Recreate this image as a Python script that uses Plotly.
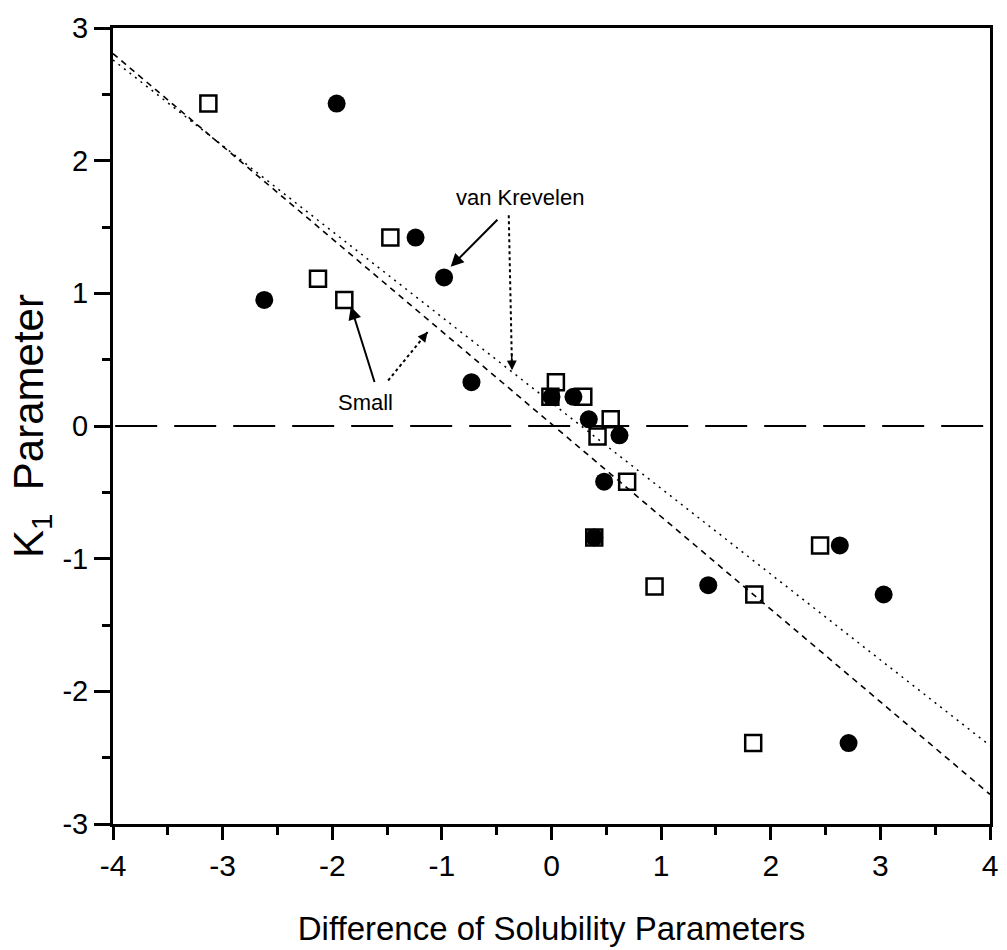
import plotly.graph_objects as go

# Filled circles (van Krevelen)
vk_x = [-1.96, -1.24, -0.98, -2.62, -0.73, 0.00, 0.20, 0.34, 0.62, 0.48, 0.39, 1.43, 2.63, 3.03, 2.71]
vk_y = [2.43, 1.42, 1.12, 0.95, 0.33, 0.22, 0.22, 0.05, -0.07, -0.42, -0.84, -1.20, -0.90, -1.27, -2.39]

# Open squares (Small)
sm_x = [-3.13, -1.47, -2.13, -1.89, 0.04, -0.01, 0.29, 0.54, 0.42, 0.69, 2.45, 0.94, 1.85, 1.84, 0.39]
sm_y = [2.43, 1.42, 1.11, 0.95, 0.33, 0.22, 0.22, 0.05, -0.08, -0.42, -0.90, -1.21, -1.27, -2.39, -0.84]

# Fit lines: [intercept, slope]
small_fit = [0.015, -0.698]
vk_fit = [0.175, -0.646]
fit_x = [-4, 4]
zero_x = [-3.98, 3.98]
zero_y = [0, 0]

x_ticks = [-4, -3, -2, -1, 0, 1, 2, 3, 4]
y_ticks = [-3, -2, -1, 0, 1, 2, 3]

FONT = "Liberation Sans, Arial, Helvetica, sans-serif"

fig = go.Figure()

fig.add_trace(go.Scatter(x=zero_x, y=zero_y, mode="lines",
                         line=dict(color="black", width=2, dash="42px,17px"),
                         showlegend=False, hoverinfo="skip"))
fig.add_trace(go.Scatter(x=fit_x, y=[small_fit[0] + small_fit[1] * v for v in fit_x], mode="lines",
                         line=dict(color="black", width=1.6, dash="6px,5px"),
                         showlegend=False))
fig.add_trace(go.Scatter(x=fit_x, y=[vk_fit[0] + vk_fit[1] * v for v in fit_x], mode="lines",
                         line=dict(color="black", width=1.5, dash="2px,5px"),
                         showlegend=False))
fig.add_trace(go.Scatter(x=sm_x, y=sm_y, mode="markers",
                         marker=dict(symbol="square-open", size=16, color="black", line=dict(width=2.5)),
                         showlegend=False))
fig.add_trace(go.Scatter(x=vk_x, y=vk_y, mode="markers",
                         marker=dict(symbol="circle", size=18, color="black"),
                         showlegend=False))

# Text labels
fig.add_annotation(x=-0.29, y=1.72, text="van Krevelen", showarrow=False,
                   font=dict(family=FONT, size=22, color="black"))
fig.add_annotation(x=-1.70, y=0.175, text="Small", showarrow=False,
                   font=dict(family=FONT, size=22, color="black"))

# Solid arrows
fig.add_annotation(x=-0.92, y=1.20, ax=-0.48, ay=1.566, xref="x", yref="y", axref="x", ayref="y",
                   text="", showarrow=True, arrowhead=2, arrowsize=1.3, arrowwidth=2, arrowcolor="black")
fig.add_annotation(x=-1.83, y=0.90, ax=-1.61, ay=0.32, xref="x", yref="y", axref="x", ayref="y",
                   text="", showarrow=True, arrowhead=2, arrowsize=1.3, arrowwidth=2, arrowcolor="black")

# Dotted arrows: dotted shaft + head
dotted = [(-0.39, 1.589, -0.36, 0.42), (-1.49, 0.343, -1.13, 0.708)]
for tx, ty, hx, hy in dotted:
    fig.add_shape(type="line", x0=tx, y0=ty, x1=hx, y1=hy, xref="x", yref="y",
                  line=dict(color="black", width=2, dash="dot"))
    fig.add_annotation(x=hx, y=hy, ax=hx - (hx - tx) * 0.12, ay=hy - (hy - ty) * 0.12,
                       xref="x", yref="y", axref="x", ayref="y",
                       text="", showarrow=True, arrowhead=2, arrowsize=1.3, arrowwidth=1.5,
                       arrowcolor="black")

fig.update_layout(
    width=1007, height=950,
    margin=dict(l=113, r=9, t=28, b=125),
    plot_bgcolor="white", paper_bgcolor="white",
    font=dict(family=FONT, color="black"),
)
fig.update_xaxes(range=[-4, 4], tickvals=x_ticks, ticktext=[str(v) for v in x_ticks],
                 showgrid=False, zeroline=False, showline=True, linecolor="black", linewidth=3,
                 mirror=True, ticks="outside", ticklen=13, tickwidth=2.5, tickcolor="black",
                 tickfont=dict(family=FONT, size=30),
                 minor=dict(ticks="outside", dtick=0.5, ticklen=8, tickwidth=2.5, tickcolor="black"),
                 title=dict(text="Difference of Solubility Parameters",
                            font=dict(family=FONT, size=33), standoff=36))
fig.update_yaxes(range=[-3, 3], tickvals=y_ticks, ticktext=[str(v) for v in y_ticks],
                 showgrid=False, zeroline=False, showline=True, linecolor="black", linewidth=3,
                 mirror=True, ticks="outside", ticklen=16, tickwidth=2.5, tickcolor="black",
                 tickfont=dict(family=FONT, size=29),
                 minor=dict(ticks="outside", dtick=0.5, ticklen=8, tickwidth=2.5, tickcolor="black"),
                 title=dict(text="K<sub>1</sub>  Parameter", font=dict(family=FONT, size=42), standoff=6))

fig.write_html("out.html", config={"displayModeBar": False},
               post_script="document.body.style.margin='0';")
